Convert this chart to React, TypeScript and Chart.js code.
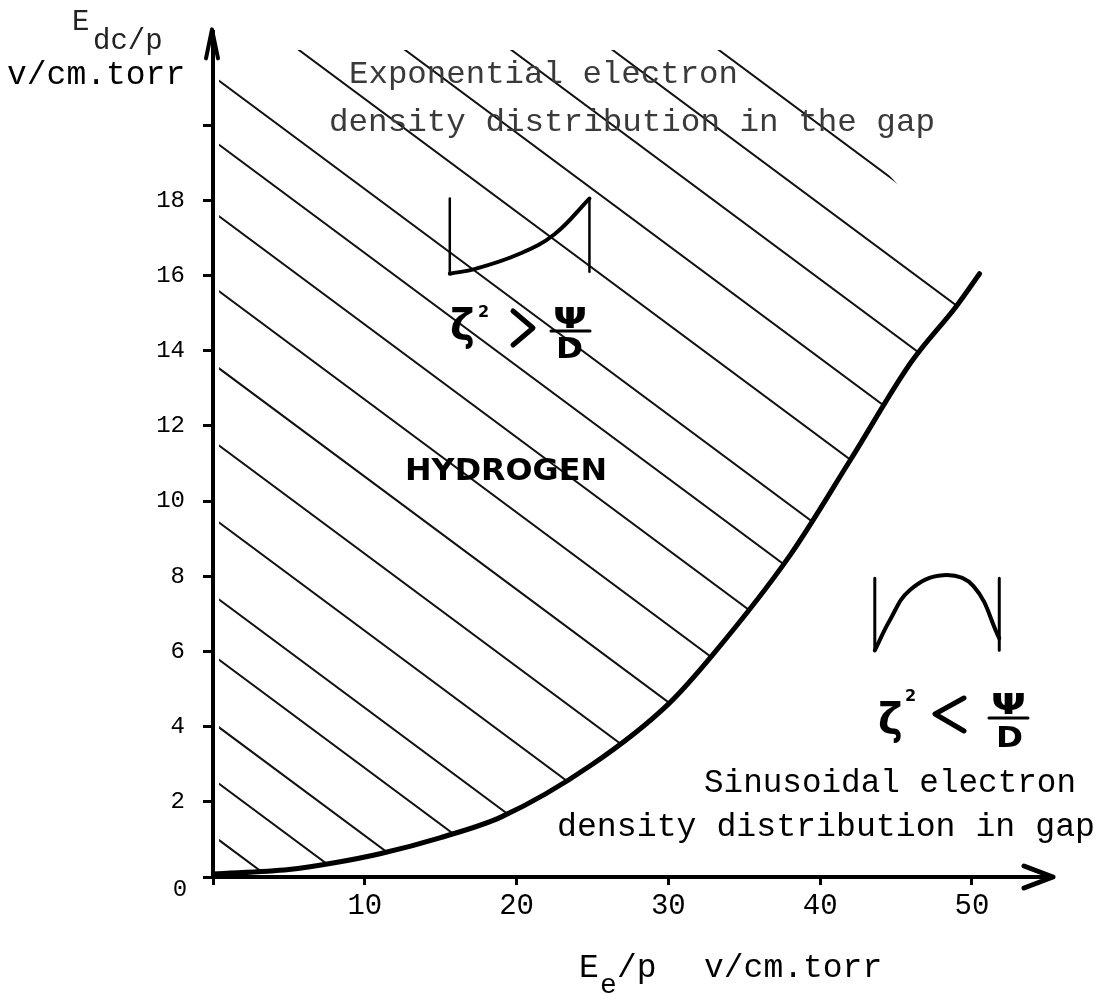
import React, { useEffect, useRef } from 'react';
import { Chart, registerables } from 'chart.js';

Chart.register(...registerables);

// ---- data ----
const curveX = [0, 5, 8, 11, 15, 19, 25, 30, 33, 38, 42, 46, 49, 50.5];
const curveY = [0.08, 0.2, 0.38, 0.62, 1.05, 1.6, 3.0, 4.6, 5.95, 8.55, 11.1, 13.7, 15.2, 16.05];

const xTicks = [0, 10, 20, 30, 40, 50];
const xTickLabels = ['', '10', '20', '30', '40', '50'];
const yTicks = [0, 2, 4, 6, 8, 10, 12, 14, 16, 18, 20];
const yTickLabels = ['', '2', '4', '6', '8', '10', '12', '14', '16', '18', ''];

const xMax = 55.34;
const yMax = 22.47;

// hatch lines: value where each line meets x = 0, and their common slope
const hatchIntercepts = [32.0, 29.9, 27.9, 25.8, 23.7, 21.3, 19.6, 17.7, 15.7, 13.65, 11.6, 9.55, 7.5, 5.9, 4.1, 2.6, 1.1];
const hatchSlope = -0.3;
const hatchLeft = 0.4;
const hatchTop = 22;
const hatchTopRight = 37;

// small "exponential" sketch
const expLeftX = [15.6, 15.6];
const expLeftY = [18.05, 16.05];
const expCurveX = [15.6, 17.3, 20.2, 22.5, 24.8];
const expCurveY = [16.05, 16.18, 16.58, 17.1, 18.05];
const expRightX = [24.8, 24.8];
const expRightY = [18.05, 16.1];

// small "sinusoidal" sketch
const sinLeftX = [43.6, 43.6];
const sinLeftY = [7.95, 6.03];
const sinArchX = [43.6, 44.6, 45.9, 48.1, 50.1, 51.8];
const sinArchY = [6.03, 6.84, 7.63, 8.03, 7.74, 6.35];
const sinRightX = [51.8, 51.8];
const sinRightY = [7.95, 6.03];

const MONO = '"Liberation Mono", "DejaVu Sans Mono", monospace';
const HAND = '"DejaVu Sans", "Liberation Sans", sans-serif';

const pts = (xs: number[], ys: number[]) => xs.map((x, i) => ({ x, y: ys[i] }));

const lineDs = (xs: number[], ys: number[], width: number, smooth = false) => ({
  data: pts(xs, ys),
  borderColor: '#000',
  borderWidth: width,
  pointRadius: 0,
  fill: false,
  tension: 0,
  cubicInterpolationMode: smooth ? 'monotone' : 'default',
  borderCapStyle: 'round',
  borderJoinStyle: 'round',
});

export default function App() {
  const ref = useRef<HTMLCanvasElement>(null);

  useEffect(() => {
    const canvas = ref.current!;

    const overlay = {
      id: 'overlay',
      beforeDatasetsDraw(chart: any) {
        const { ctx, scales } = chart;
        const X = (v: number) => scales.x.getPixelForValue(v);
        const Y = (v: number) => scales.y.getPixelForValue(v);
        ctx.save();
        ctx.beginPath();
        ctx.moveTo(X(hatchLeft), Y(hatchTop));
        ctx.lineTo(X(hatchTopRight), Y(hatchTop));
        for (let i = curveX.length - 1; i >= 0; i--) ctx.lineTo(X(curveX[i]), Y(curveY[i]));
        ctx.lineTo(X(hatchLeft), Y(0));
        ctx.closePath();
        ctx.clip();
        ctx.strokeStyle = '#111';
        ctx.lineWidth = 2;
        hatchIntercepts.forEach((b) => {
          ctx.beginPath();
          ctx.moveTo(X(0), Y(b));
          ctx.lineTo(X(xMax), Y(b + hatchSlope * xMax));
          ctx.stroke();
        });
        ctx.restore();
      },
      afterDraw(chart: any) {
        const { ctx, chartArea } = chart;
        const L = chartArea.left;
        const B = chartArea.bottom;
        const R = chartArea.right;
        const T = chartArea.top;
        ctx.save();
        ctx.strokeStyle = '#000';
        ctx.fillStyle = '#000';
        ctx.lineCap = 'round';
        ctx.lineJoin = 'round';

        // arrow heads
        ctx.lineWidth = 5;
        ctx.beginPath();
        ctx.moveTo(R - 29, B - 11);
        ctx.lineTo(R, B);
        ctx.lineTo(R - 29, B + 11);
        ctx.stroke();
        ctx.lineWidth = 4;
        ctx.beginPath();
        ctx.moveTo(L - 7, T + 26);
        ctx.lineTo(L - 1, T - 3);
        ctx.lineTo(L + 5, T + 26);
        ctx.stroke();

        const text = (s: string, x: number, y: number, font: string, align = 'left', color = '#000') => {
          ctx.font = font;
          ctx.textAlign = align;
          ctx.textBaseline = 'alphabetic';
          ctx.fillStyle = color;
          ctx.fillText(s, x, y);
        };
        const fitText = (s: string, x: number, y: number, font: string, w: number, color = '#000') => {
          ctx.save();
          ctx.font = font;
          ctx.textAlign = 'left';
          ctx.textBaseline = 'alphabetic';
          ctx.fillStyle = color;
          const m = ctx.measureText(s).width;
          ctx.translate(x, y);
          ctx.scale(w / m, 1);
          ctx.fillText(s, 0, 0);
          ctx.restore();
        };

        // y axis title
        text('E', 72, 30, `29px ${MONO}`, 'left', '#222');
        text('dc/p', 93, 49, `29px ${MONO}`, 'left', '#222');
        text('v/cm.torr', 7, 84, `33px ${MONO}`);
        // origin label
        ctx.font = `24px ${MONO}`;
        ctx.textAlign = 'center';
        ctx.textBaseline = 'middle';
        ctx.fillText('0', 180, 890);

        // x axis title
        text('E', 579, 977, `33px ${MONO}`);
        text('e', 600, 993, `28px ${MONO}`);
        text('/p', 617, 977, `33px ${MONO}`);
        text('v/cm.torr', 704, 977, `33px ${MONO}`);

        // notes
        fitText('Exponential electron', 349, 83, `32px ${MONO}`, 389, '#3a3a3a');
        fitText('density distribution in the gap', 329, 131, `32px ${MONO}`, 606, '#3a3a3a');
        fitText('Sinusoidal electron', 704, 792, `33px ${MONO}`, 372);
        fitText('density distribution in gap', 557, 836, `33px ${MONO}`, 538);

        fitText('HYDROGEN', 405, 480, `bold 31px ${HAND}`, 202);

        // zeta^2 > psi / D
        text('ζ', 450, 340, `bold 42px ${HAND}`);
        text('2', 478, 317, `bold 16px ${HAND}`);
        ctx.lineWidth = 5;
        ctx.beginPath();
        ctx.moveTo(513, 311);
        ctx.lineTo(533, 328);
        ctx.lineTo(513, 345);
        ctx.stroke();
        fitText('Ψ', 553, 328, `bold 28px ${HAND}`, 34);
        ctx.lineWidth = 3;
        ctx.beginPath();
        ctx.moveTo(551, 331);
        ctx.lineTo(590, 331);
        ctx.stroke();
        fitText('D', 556, 358, `bold 28px ${HAND}`, 27);

        // zeta^2 < psi / D
        text('ζ', 878, 734, `bold 42px ${HAND}`);
        text('2', 905, 701, `bold 16px ${HAND}`);
        ctx.lineWidth = 5;
        ctx.beginPath();
        ctx.moveTo(964, 698);
        ctx.lineTo(935, 714);
        ctx.lineTo(964, 731);
        ctx.stroke();
        fitText('Ψ', 991, 714, `bold 28px ${HAND}`, 35);
        ctx.lineWidth = 3;
        ctx.beginPath();
        ctx.moveTo(989, 718);
        ctx.lineTo(1028, 718);
        ctx.stroke();
        fitText('D', 996, 747, `bold 28px ${HAND}`, 27);

        ctx.restore();
      },
    };

    const chart = new Chart(canvas, {
      type: 'line',
      data: {
        datasets: [
          lineDs(curveX, curveY, 5, true),
          lineDs(expLeftX, expLeftY, 2.5),
          { ...lineDs(expCurveX, expCurveY, 4), tension: 0.4 },
          lineDs(expRightX, expRightY, 2.5),
          lineDs(sinLeftX, sinLeftY, 3),
          { ...lineDs(sinArchX, sinArchY, 4), tension: 0.4 },
          lineDs(sinRightX, sinRightY, 3),
        ] as any,
      },
      options: {
        responsive: false,
        animation: false,
        layout: { padding: { left: 0, top: 23, right: 44, bottom: 0 } },
        plugins: {
          legend: { display: false },
          tooltip: { enabled: false },
        },
        scales: {
          x: {
            type: 'linear',
            min: 0,
            max: xMax,
            afterBuildTicks: (s: any) => {
              s.ticks = xTicks.map((v) => ({ value: v }));
            },
            afterFit: (s: any) => {
              s.height = 118;
            },
            grid: {
              display: true,
              drawOnChartArea: false,
              drawTicks: true,
              tickLength: 8,
              tickColor: '#000',
              tickWidth: 3,
            },
            border: { display: true, color: '#000', width: 4 },
            ticks: {
              autoSkip: false,
              maxRotation: 0,
              padding: 4,
              color: '#000',
              font: { family: MONO, size: 29 },
              callback: (v: any) => xTickLabels[xTicks.indexOf(Number(v))] ?? '',
            },
          },
          y: {
            type: 'linear',
            min: 0,
            max: yMax,
            afterBuildTicks: (s: any) => {
              s.ticks = yTicks.map((v) => ({ value: v }));
            },
            afterFit: (s: any) => {
              s.width = 213;
            },
            grid: {
              display: true,
              drawOnChartArea: false,
              drawTicks: true,
              tickLength: 10,
              tickColor: '#000',
              tickWidth: 3,
            },
            border: { display: true, color: '#000', width: 4 },
            ticks: {
              autoSkip: false,
              padding: 18,
              color: '#000',
              font: { family: MONO, size: 24 },
              callback: (v: any) => yTickLabels[yTicks.indexOf(Number(v))] ?? '',
            },
          },
        },
      } as any,
      plugins: [overlay],
    });

    return () => chart.destroy();
  }, []);

  return (
    <div style={{ position: 'absolute', left: 0, top: 0, width: 1097, height: 995, background: '#fff' }}>
      <canvas ref={ref} width={1097} height={995} style={{ display: 'block' }} />
    </div>
  );
}
